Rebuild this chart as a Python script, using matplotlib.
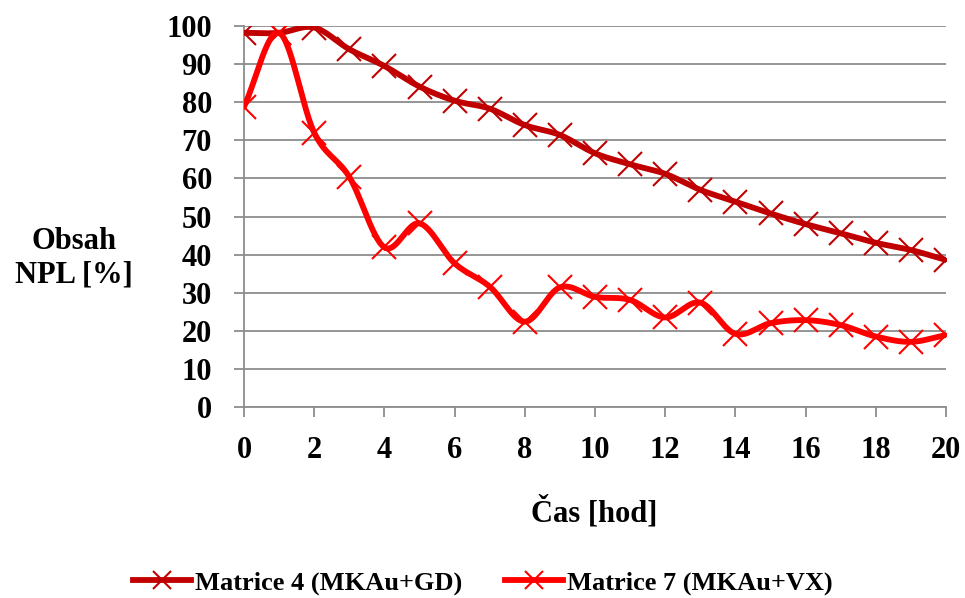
import numpy as np
import matplotlib
matplotlib.use('Agg')
import matplotlib.pyplot as plt

# hodnoty obsahu NPL v case
hours = list(range(0, 21))
matrix4 = [98.2, 98.2, 99.6, 93.9, 89.5, 84.1, 80.4, 78.3, 74.0, 71.4, 66.6,
           63.7, 61.2, 57.0, 53.9, 50.8, 48.0, 45.6, 43.1, 41.2, 38.6]
matrix7 = [78.8, 98.2, 72.0, 60.4, 41.9, 48.2, 37.7, 31.6, 22.4, 31.4, 28.9,
           28.1, 23.5, 27.4, 19.2, 22.0, 22.8, 21.5, 18.5, 17.1, 18.9]
labels = ['Matrice 4 (MKAu+GD)', 'Matrice 7 (MKAu+VX)']
colors = ['#C00000', '#FF0000']


def smooth(x, y, n=30):
    # catmull-rom pres vsechny body
    x = np.asarray(x, float)
    y = np.asarray(y, float)
    px = np.concatenate([[2*x[0]-x[1]], x, [2*x[-1]-x[-2]]])
    py = np.concatenate([[2*y[0]-y[1]], y, [2*y[-1]-y[-2]]])
    xs, ys = [], []
    t = np.linspace(0, 1, n)
    for i in range(1, len(px)-2):
        for p, out in ((px, xs), (py, ys)):
            p0, p1, p2, p3 = p[i-1], p[i], p[i+1], p[i+2]
            out.extend(0.5*((2*p1) + (-p0+p2)*t + (2*p0-5*p1+4*p2-p3)*t**2
                            + (-p0+3*p1-3*p2+p3)*t**3))
    return xs, ys


plt.rcParams['font.family'] = ['Liberation Serif', 'DejaVu Serif']
plt.rcParams['font.weight'] = 'bold'

fig = plt.figure(figsize=(9.65, 5.98), dpi=100)
ax = fig.add_axes([244/965, 1-407/598, (946-244)/965, (407-26)/598])

handles = []
for ys, c, lab in zip([matrix4, matrix7], colors, labels):
    sx, sy = smooth(hours, ys)
    ax.plot(sx, sy, color=c, lw=4.2, solid_capstyle='round', zorder=3)
    ax.plot(hours, ys, ls='none', marker='x', ms=17, mew=1.5, color=c, zorder=4)
    h, = ax.plot([], [], color=c, lw=4.2, marker='x', ms=13, mew=1.5, label=lab)
    handles.append(h)

ax.set_xlim(0, 20)
ax.set_ylim(0, 100)
ax.set_xticks(range(0, 21, 2))
ax.set_yticks(range(0, 101, 10))
ax.yaxis.grid(True, color='#8c8c8c', lw=1.3)
ax.set_axisbelow(True)
for s in ['top', 'right']:
    ax.spines[s].set_visible(False)
for s in ['left', 'bottom']:
    ax.spines[s].set_color('#8c8c8c')
    ax.spines[s].set_linewidth(1.3)
ax.tick_params(colors='#8c8c8c', width=1.3, length=7, labelcolor='black',
               labelsize=22)
ax.tick_params(axis='x', pad=14)
ax.tick_params(axis='y', pad=16)
for lab in ax.get_xticklabels() + ax.get_yticklabels():
    lab.set_fontweight('bold')

fig.text(74/965, 1-258/598, 'Obsah\nNPL [%]', ha='center', va='center',
         fontsize=22, fontweight='bold', linespacing=1.2)
fig.text(594/965, 1-512/598, 'Čas [hod]', ha='center', va='center',
         fontsize=22, fontweight='bold')

fig.legend(handles=handles, loc='center', bbox_to_anchor=(483/965, 1-583/598),
           ncol=2, frameon=False, handlelength=2.2,
           handletextpad=0.15, columnspacing=1.6,
           prop={'weight': 'bold', 'size': 19})

fig.savefig('out.png', dpi=100)
